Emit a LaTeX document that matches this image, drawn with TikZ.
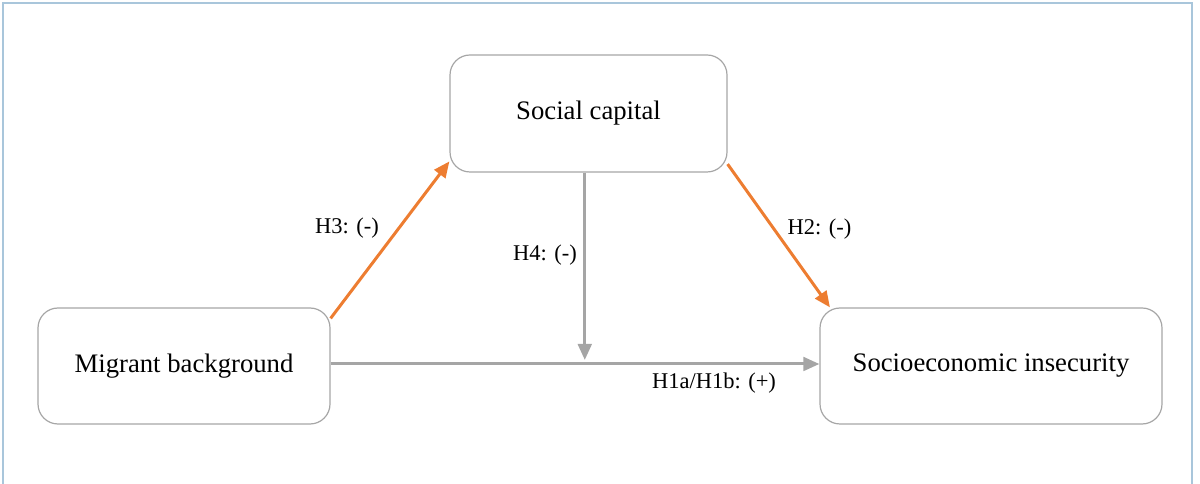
\documentclass[tikz,border=0pt]{standalone}
\usepackage{fontspec}
\setmainfont{Liberation Serif}
\usepackage{xcolor}
\usetikzlibrary{arrows.meta,calc,positioning}
\definecolor{boxgray}{HTML}{A6A6A6}
\definecolor{arrowgray}{HTML}{A5A5A5}
\definecolor{arroworange}{HTML}{ED7D31}
\definecolor{frameblue}{HTML}{A9C6DB}
\tikzset{
	varbox/.style={draw=boxgray, line width=0.03cm, rounded corners=0.5cm, align=center,
		font=\fontsize{19}{23}\selectfont},
	hyplabel/.style={font=\fontsize{16}{19}\selectfont},
	patharrow/.style={line width=0.075cm, -{Triangle[length=0.4cm,width=0.34cm]}}
}

\begin{document}
\begin{tikzpicture}
                        \useasboundingbox (0,0) rectangle (30.000000,12.100000);

                        % Drawing frame
                        \draw [frameblue, line width=0.05cm] (0.075000,-0.200000) -- (0.075000,12.025000) -- (29.800000,12.025000) -- (29.800000,-0.200000);%

                        % Marking variable boxes
                        \node [varbox, minimum width=6.925cm, minimum height=2.925cm] (soc) at (14.712500,9.262500) {Social capital};%
                        \node [varbox, minimum width=7.300000cm, minimum height=2.900000cm] (mig) at (4.600000,2.950000) {Migrant background};%
                        \node [varbox, minimum width=8.550000cm, minimum height=2.900000cm] (ins) at (24.775000,2.950000) {Socioeconomic insecurity};%

                        % Drawing line mig ins
                        \draw [patharrow, arrowgray] ([yshift=0.05cm]mig.east) -- ([yshift=0.05cm]ins.west);%
                        \coordinate (mid) at ($(mig.east)!0.52!(ins.west)$);

                        % Drawing line soc mid
                        \draw [patharrow, arrowgray] (soc.south -| mid) -- ([yshift=0.15cm]mid);%

                        % Drawing line mig soc
                        \draw [patharrow, arroworange] (mig.18.8) -- (soc.199.5);%

                        % Drawing line soc ins
                        \draw [patharrow, arroworange] (soc.-20.7) -- (ins.160.6);%

                        % Marking hypotheses
                        \node [hyplabel] (h3) at (8.675000,6.400000) {H3: (-)};%
                        \node [hyplabel] (h4) at (13.625000,5.725000) {H4: (-)};%
                        \node [hyplabel] (h2) at (20.487500,6.375000) {H2: (-)};%
                        \node [hyplabel] (h1) at (17.850000,2.525000) {H1a/H1b: (+)};%
                    \end{tikzpicture}
\end{document}
